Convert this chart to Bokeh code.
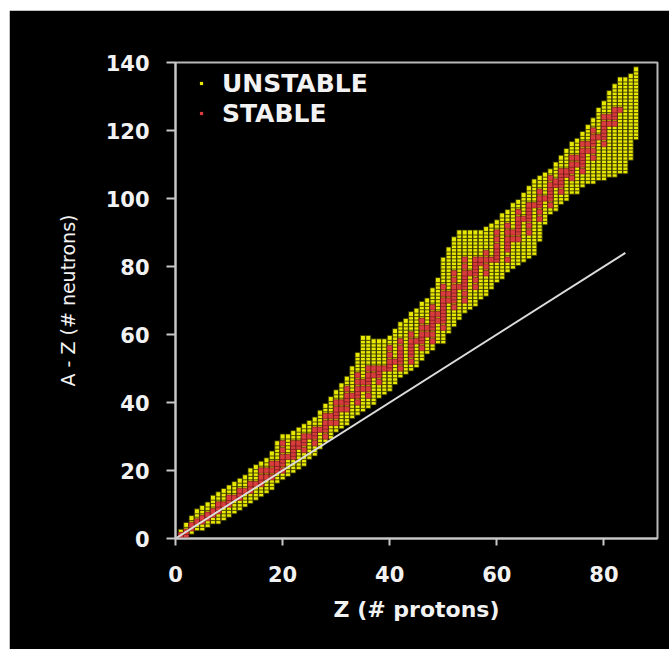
from bokeh.plotting import figure
from bokeh.models import Range1d, FixedTicker, Legend, LegendItem
from bokeh.embed import file_html
from bokeh.resources import INLINE

# ---- data ----
z_values = list(range(1, 87))

unstable_n_min = [0, 1, 2, 3, 3, 4, 5, 5, 6, 7,
                  8, 9, 10, 11, 12, 13, 14, 15, 17, 18,
                  19, 20, 21, 22, 24, 25, 27, 29, 30, 32,
                  33, 34, 36, 37, 38, 39, 40, 42, 43, 44,
                  46, 48, 49, 50, 51, 53, 55, 56, 58, 58,
                  61, 63, 65, 67, 68, 69, 71, 72, 74, 76,
                  77, 79, 80, 81, 82, 83, 84, 88, 93, 96,
                  97, 99, 100, 102, 102, 104, 105, 105, 106, 106,
                  107, 107, 108, 108, 112, 118]

unstable_n_max = [2, 4, 6, 8, 9, 10, 12, 13, 14, 15,
                  16, 17, 18, 20, 21, 22, 23, 25, 28, 30,
                  30, 31, 32, 33, 34, 35, 37, 39, 41, 43,
                  45, 47, 50, 54, 59, 59, 58, 58, 58, 59,
                  61, 63, 64, 66, 67, 69, 70, 73, 76, 82,
                  85, 88, 90, 90, 90, 90, 90, 91, 92, 93,
                  95, 96, 98, 99, 101, 103, 105, 106, 107, 108,
                  110, 112, 114, 116, 117, 119, 121, 123, 126, 128,
                  131, 133, 135, 135, 136, 138]

stable_n = [[0, 1], [1, 2], [3, 4], [5], [5, 6], [6, 7], [7, 8], [8, 9, 10], [10], [10, 11, 12],
            [12], [12, 13, 14], [14], [14, 15, 16], [16], [16, 17, 18, 20], [18, 20], [18, 20, 22], [20, 21, 22], [20, 22, 23, 24, 26, 28],
            [24], [24, 25, 26, 27, 28], [27, 28], [26, 28, 29, 30], [30], [28, 30, 31, 32], [32], [30, 32, 33, 34, 36], [34, 36], [34, 36, 37, 38, 40],
            [38, 40], [38, 40, 41, 42, 44], [42], [40, 42, 43, 44, 46, 48], [44, 46], [42, 44, 46, 47, 48, 50], [48, 50], [46, 48, 49, 50], [50], [50, 51, 52, 54, 56],
            [52], [50, 52, 53, 54, 55, 56, 58], [], [52, 54, 55, 56, 57, 58, 60], [58], [56, 58, 59, 60, 62, 64], [60, 62], [58, 60, 62, 63, 64, 65, 66, 68], [64, 66], [62, 64, 65, 66, 67, 68, 69, 70, 72, 74],
            [70, 72], [68, 70, 71, 72, 73, 74, 76, 78], [74], [70, 72, 74, 75, 76, 77, 78, 80, 82], [78], [74, 76, 78, 79, 80, 81, 82], [81, 82], [78, 80, 82, 84], [82], [82, 83, 84, 85, 86, 88, 90],
            [], [82, 85, 86, 87, 88, 90, 92], [88, 90], [88, 90, 91, 92, 93, 94, 96], [94], [90, 92, 94, 95, 96, 97, 98], [98], [94, 96, 98, 99, 100, 102], [100], [98, 100, 101, 102, 103, 104, 106],
            [104, 105], [102, 104, 105, 106, 107, 108], [107, 108], [106, 108, 109, 110, 112], [110, 112], [108, 110, 111, 112, 113, 114, 116], [114, 116], [112, 114, 116, 117, 118, 120], [118], [116, 118, 119, 120, 121, 122, 124],
            [122, 124], [122, 124, 125, 126], [126], [], [], []]

nz_line_z = [0, 84]
nz_line_n = [0, 84]

x_ticks = [0, 20, 40, 60, 80]
y_ticks = [0, 20, 40, 60, 80, 100, 120, 140]

# ---- expand to individual nuclides ----
uz, un, sz, sn = [], [], [], []
for z, lo, hi, st in zip(z_values, unstable_n_min, unstable_n_max, stable_n):
    for n in range(lo, hi + 1):
        if n not in st:
            uz.append(z)
            un.append(n)
    for n in st:
        sz.append(z)
        sn.append(n)

FONT = "DejaVu Sans"
YELLOW = "#e8e800"
RED = "#d83c3c"

p = figure(width=660, height=639, output_backend="svg", toolbar_location=None,
           x_range=Range1d(0, 90), y_range=Range1d(0, 140),
           min_border_left=166, min_border_right=12, min_border_top=52, min_border_bottom=111,
           margin=(10, 0, 0, 9))
p.frame_width = 482
p.frame_height = 476
p.background_fill_color = "black"
p.border_fill_color = "black"
p.outline_line_color = "#b8b8b8"
p.outline_line_width = 2
p.xgrid.visible = False
p.ygrid.visible = False

# legend-only glyphs (small dots like the reference), drawn underneath the data
leg_u = p.scatter(uz[:1], un[:1], marker="square", size=3, fill_color=YELLOW, line_color=None)
leg_s = p.scatter(sz[:1], sn[:1], marker="square", size=3, fill_color=RED, line_color=None)

p.scatter(uz, un, marker="square", size=5, fill_color=YELLOW,
          line_color="#2a2a00", line_width=0.8)
p.scatter(sz, sn, marker="square", size=5.5, fill_color=RED,
          line_color="#5a1414", line_width=0.6)
p.line(nz_line_z, nz_line_n, line_color="#dcdcdc", line_width=2)

for ax in (p.xaxis[0], p.yaxis[0]):
    ax.axis_line_color = "#c8c8c8"
    ax.axis_line_width = 2
    ax.major_tick_line_color = "#c8c8c8"
    ax.major_tick_line_width = 2
    ax.major_tick_in = 0
    ax.minor_tick_line_color = None
    ax.major_label_text_color = "#f2f2f2"
    ax.major_label_text_font = FONT
    ax.major_label_text_font_style = "bold"
    ax.major_label_text_font_size = "21px"
    ax.axis_label_text_color = "#f2f2f2"
    ax.axis_label_text_font = FONT

p.xaxis.ticker = FixedTicker(ticks=x_ticks)
p.yaxis.ticker = FixedTicker(ticks=y_ticks)
p.xaxis.major_tick_out = 7
p.yaxis.major_tick_out = 9
p.xaxis.major_label_standoff = 20
p.yaxis.major_label_standoff = 17

p.xaxis.axis_label = "Z (# protons)"
p.xaxis.axis_label_text_font_style = "bold"
p.xaxis.axis_label_text_font_size = "22px"
p.xaxis.axis_label_standoff = 12

p.yaxis.axis_label = "A - Z (# neutrons)"
p.yaxis.axis_label_text_font_style = "normal"
p.yaxis.axis_label_text_font_size = "19px"
p.yaxis.axis_label_standoff = 24

legend = Legend(items=[LegendItem(label="UNSTABLE", renderers=[leg_u]),
                       LegendItem(label="STABLE", renderers=[leg_s])],
                location=(15, 403))
legend.background_fill_alpha = 0
legend.border_line_alpha = 0
legend.margin = 0
legend.padding = 7
legend.spacing = 0
legend.glyph_width = 8
legend.glyph_height = 30
legend.label_height = 30
legend.label_standoff = 17
legend.label_text_color = "#f2f2f2"
legend.label_text_font = FONT
legend.label_text_font_style = "bold"
legend.label_text_font_size = "25px"
p.add_layout(legend, "center")

open("out.html", "w").write(file_html(p, INLINE))
